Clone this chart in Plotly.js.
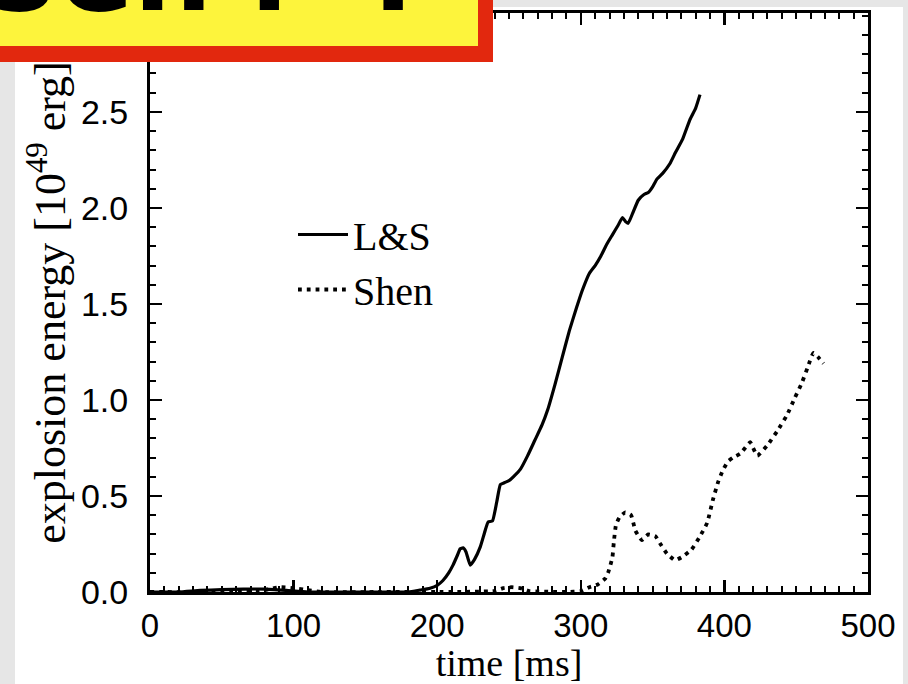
<!DOCTYPE html>
<html>
<head>
<meta charset="utf-8">
<script src="https://cdn.plot.ly/plotly-3.0.1.min.js"></script>
<style>html,body{margin:0;padding:0;background:#e6e6e6;}#chart{width:908px;height:684px;}</style>
</head>
<body>
<div id="chart"></div>
<script>
// L&S equation of state run
const lsTime = [0, 20, 35, 50, 65, 80, 95, 110, 140, 170, 180, 188, 195, 200, 204, 208, 211, 214, 216, 218, 220, 223, 226, 230, 233, 235.5, 238.5, 241.5, 244, 247, 250, 253, 258, 263, 268, 273, 277, 282, 287, 292, 297, 301, 306, 310, 314, 318, 322, 326, 329, 331, 333, 336, 340, 344, 347, 350, 353, 357, 362, 366, 371, 376, 380, 383];
const lsEnergy = [0, 0.0, 0.008, 0.012, 0.015, 0.015, 0.008, 0.0, 0, 0, 0.0, 0.01, 0.02, 0.035, 0.06, 0.10, 0.14, 0.19, 0.225, 0.23, 0.21, 0.14, 0.17, 0.235, 0.31, 0.365, 0.37, 0.47, 0.56, 0.57, 0.58, 0.60, 0.64, 0.71, 0.79, 0.87, 0.95, 1.08, 1.22, 1.36, 1.48, 1.57, 1.66, 1.70, 1.75, 1.81, 1.86, 1.91, 1.95, 1.93, 1.92, 1.97, 2.04, 2.07, 2.08, 2.11, 2.15, 2.18, 2.23, 2.29, 2.36, 2.46, 2.52, 2.59];

// Shen equation of state run
const shenTime = [0, 30, 60, 80, 90, 100, 110, 120, 160, 200, 240, 246, 252, 258, 264, 290, 300, 306, 312, 317, 319, 322, 323, 324.5, 327, 331, 335, 338, 342.5, 347, 352, 355, 360, 365.6, 370, 377, 383, 388, 392, 395.5, 399, 402.5, 406, 411, 418, 420, 423, 430, 437, 443.5, 449, 454, 458, 462, 465, 469];
const shenEnergy = [0, 0, 0.005, 0.01, 0.025, 0.02, 0.01, 0, 0, 0, 0.005, 0.02, 0.025, 0.02, 0.005, 0, 0.005, 0.025, 0.04, 0.07, 0.10, 0.18, 0.26, 0.35, 0.39, 0.415, 0.40, 0.32, 0.27, 0.30, 0.29, 0.255, 0.20, 0.165, 0.18, 0.22, 0.29, 0.36, 0.48, 0.57, 0.635, 0.68, 0.70, 0.72, 0.78, 0.75, 0.71, 0.765, 0.84, 0.92, 1.01, 1.09, 1.17, 1.245, 1.225, 1.19];

const seriesNames = ['L&S', 'Shen'];
const xTickVals = [0, 100, 200, 300, 400, 500];
const yTickVals = [0, 0.5, 1, 1.5, 2, 2.5];

// pixel helpers for decorative page elements (plot area 150..868 x 13..592)
const PL = 150, PR = 868, PT = 13, PB = 592;
const px = v => (v - PL) / (PR - PL);
const py = v => (PB - v) / (PB - PT);

const traces = [
  {x: lsTime, y: lsEnergy, name: seriesNames[0], mode: 'lines', type: 'scatter',
   line: {color: '#000', width: 3.2, shape: 'spline', smoothing: 0.4}},
  {x: shenTime, y: shenEnergy, name: seriesNames[1], mode: 'lines', type: 'scatter',
   line: {color: '#000', width: 3.8, dash: '3.8px,5px', shape: 'spline', smoothing: 0.4}}
];

const axisCommon = {
  showgrid: false, zeroline: false, showline: true, linecolor: '#000', linewidth: 3,
  mirror: 'ticks', ticks: 'inside', ticklen: 12, tickwidth: 2.5, tickcolor: '#000'
};

const layout = {
  width: 908, height: 684,
  margin: {l: PL, r: 908 - PR, t: PT, b: 684 - PB, pad: 0},
  paper_bgcolor: '#e6e6e6', plot_bgcolor: '#ffffff',
  showlegend: true,
  legend: {x: px(293), y: py(202), xanchor: 'left', yanchor: 'top', bgcolor: 'rgba(0,0,0,0)',
           itemwidth: 50, font: {family: 'Liberation Serif, serif', size: 40, color: '#000'}},
  xaxis: Object.assign({}, axisCommon, {
    range: [0, 500], tickvals: xTickVals, ticktext: xTickVals.map(String),
    minor: {dtick: 10, ticklen: 6, tickwidth: 2, ticks: 'inside', tickcolor: '#000', showgrid: false},
    tickfont: {family: 'Liberation Sans, sans-serif', size: 33, color: '#000'},
    ticklabelstandoff: 2,
    title: {text: 'time [ms]', standoff: 2, font: {family: 'Liberation Serif, serif', size: 38, color: '#000'}}
  }),
  yaxis: Object.assign({}, axisCommon, {
    range: [0, 3.015], tickvals: yTickVals, ticktext: yTickVals.map(v => v.toFixed(1)),
    minor: {dtick: 0.1, ticklen: 6, tickwidth: 2, ticks: 'inside', tickcolor: '#000', showgrid: false},
    tickfont: {family: 'Liberation Sans, sans-serif', size: 34, color: '#000'},
    ticklabelstandoff: 12,
    title: {text: 'explosion energy [10<sup>49</sup> erg]', standoff: 2, font: {family: 'Liberation Serif, serif', size: 44, color: '#000'}}
  }),
  shapes: [
    // white slide panel
    {type: 'rect', xref: 'paper', yref: 'paper', layer: 'below', x0: px(15), x1: px(903), y0: py(700), y1: py(7),
     fillcolor: '#ffffff', line: {width: 0}},
    // red border of banner
    {type: 'rect', xref: 'paper', yref: 'paper', layer: 'above', x0: px(-5), x1: px(493), y0: py(62), y1: py(-5),
     fillcolor: '#e2280e', line: {width: 0}},
    // yellow banner
    {type: 'rect', xref: 'paper', yref: 'paper', layer: 'above', x0: px(-5), x1: px(478), y0: py(46), y1: py(-5),
     fillcolor: '#fdf43c', line: {width: 0}}
  ],
  annotations: [
    {text: '<b>Sen i&nbsp;&nbsp;?</b>', xref: 'paper', yref: 'paper', x: px(-22), y: py(38), xanchor: 'left', yanchor: 'bottom',
     showarrow: false, font: {family: 'DejaVu Sans, sans-serif', size: 110, color: '#000'}}
  ]
};

Plotly.newPlot('chart', traces, layout, {displayModeBar: false, staticPlot: true});
</script>
</body>
</html>
